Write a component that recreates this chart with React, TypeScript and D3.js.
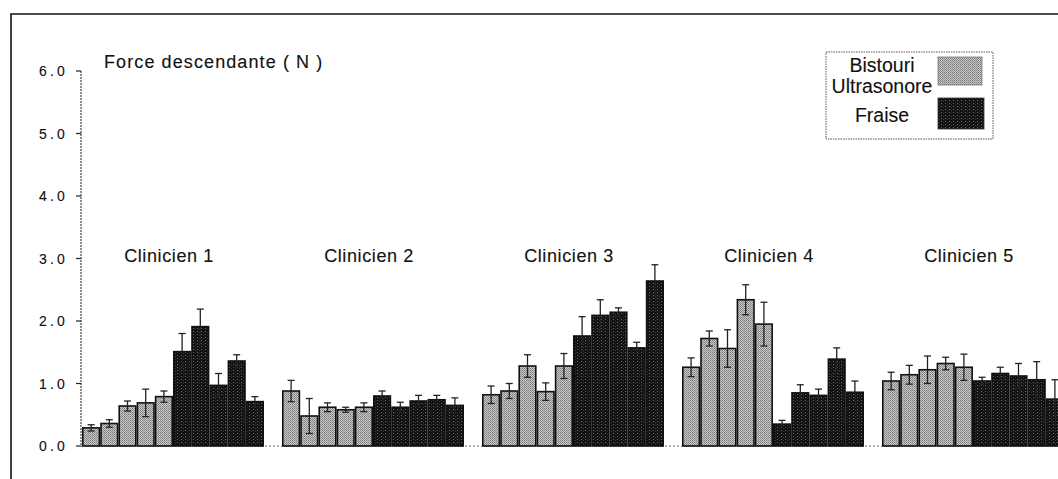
import React from "react";
import * as d3 from "d3";

const WIDTH = 1058;
const HEIGHT = 479;

const clinicians = ["Clinicien 1", "Clinicien 2", "Clinicien 3", "Clinicien 4", "Clinicien 5"];
const yTicks = [0, 1, 2, 3, 4, 5, 6];

// 5 trials per clinician, ultrasonic scalpel then bur
const bistouri = [
  [0.29, 0.36, 0.64, 0.69, 0.79],
  [0.88, 0.48, 0.62, 0.58, 0.62],
  [0.82, 0.88, 1.28, 0.87, 1.28],
  [1.26, 1.72, 1.56, 2.34, 1.95],
  [1.04, 1.14, 1.22, 1.32, 1.26],
];
const bistouriErr = [
  [0.05, 0.06, 0.08, 0.22, 0.09],
  [0.17, 0.28, 0.07, 0.04, 0.07],
  [0.14, 0.12, 0.18, 0.14, 0.2],
  [0.15, 0.12, 0.3, 0.24, 0.35],
  [0.14, 0.15, 0.22, 0.1, 0.21],
];
const fraise = [
  [1.51, 1.91, 0.97, 1.36, 0.71],
  [0.8, 0.62, 0.72, 0.74, 0.65],
  [1.76, 2.09, 2.14, 1.57, 2.64],
  [0.35, 0.85, 0.81, 1.39, 0.86],
  [1.04, 1.16, 1.12, 1.06, 0.75],
];
const fraiseErr = [
  [0.29, 0.28, 0.19, 0.1, 0.08],
  [0.08, 0.08, 0.09, 0.07, 0.12],
  [0.31, 0.25, 0.07, 0.09, 0.26],
  [0.06, 0.13, 0.1, 0.18, 0.18],
  [0.06, 0.1, 0.2, 0.29, 0.31],
];

const FONT = "Liberation Sans, Arial, sans-serif";

export default function App() {
  const x0 = d3
    .scaleBand<string>()
    .domain(clinicians)
    .range([82, 1064])
    .paddingInner(0.09)
    .paddingOuter(0);

  const slots = d3.range(10).map(String);
  const x1 = d3.scaleBand<string>().domain(slots).range([0, x0.bandwidth()]);

  const y = d3.scaleLinear().domain([0, 6]).range([446, 71]);

  const bars = clinicians.flatMap((c, ci) => {
    const vals = bistouri[ci].concat(fraise[ci]);
    const errs = bistouriErr[ci].concat(fraiseErr[ci]);
    return vals.map((v, i) => ({
      key: `${ci}-${i}`,
      x: (x0(c) as number) + (x1(String(i)) as number),
      w: x1.bandwidth(),
      v,
      e: errs[i],
      light: i < 5,
    }));
  });

  // slightly heavier text, like the scanned original
  const ink = { fill: "#111", stroke: "#111", strokeWidth: 0.12 };

  return (
    <svg
      width={WIDTH}
      height={HEIGHT}
      style={{ position: "absolute", left: 0, top: 0, background: "#fff" }}
    >
      <defs>
        <pattern id="light" width="2" height="2" patternUnits="userSpaceOnUse">
          <rect width="2" height="2" fill="#c8c8c8" />
          <rect width="1" height="1" fill="#7c7c7c" />
          <rect x="1" y="1" width="1" height="1" fill="#909090" />
        </pattern>
        <pattern id="dark" width="4" height="3" patternUnits="userSpaceOnUse">
          <rect width="4" height="3" fill="#121212" />
          <rect x="1" y="1" width="1" height="1" fill="#6a6a6a" />
          <rect x="3" y="2" width="1" height="1" fill="#3a3a3a" />
        </pattern>
      </defs>

      {/* frame */}
      <path d={`M11,${HEIGHT + 2} V14 H${WIDTH + 2}`} fill="none" stroke="#111" strokeWidth={1.6} />

      {/* y axis */}
      <line x1={81} x2={81} y1={y(6)} y2={y(0)} stroke="#444" strokeWidth={1.2} strokeDasharray="2 1" />
      {yTicks.map((t) => (
        <g key={t}>
          <line x1={76} x2={81} y1={y(t)} y2={y(t)} stroke="#222" strokeWidth={1.2} />
          <text
            x={68}
            y={y(t) + 5}
            textAnchor="end"
            fontFamily={FONT}
            fontSize={14}
            letterSpacing={3.2}
            {...ink}
          >
            {t.toFixed(1)}
          </text>
        </g>
      ))}

      {/* baseline */}
      <line x1={81} x2={WIDTH} y1={y(0)} y2={y(0)} stroke="#666" strokeWidth={1} strokeDasharray="2 2" />

      <text x={104} y={68} fontFamily={FONT} fontSize={18} letterSpacing={1.1} {...ink}>
        Force descendante ( N )
      </text>

      {/* bars */}
      {bars.map((b) => (
        <rect
          key={b.key}
          x={b.x + 0.8}
          y={y(b.v)}
          width={b.w - 1.6}
          height={y(0) - y(b.v)}
          fill={b.light ? "url(#light)" : "url(#dark)"}
          stroke="#111"
          strokeWidth={1.6}
        />
      ))}

      {/* error bars */}
      {bars.map((b) => {
        const cx = b.x + b.w / 2;
        const top = y(b.v + b.e);
        const bot = y(b.v - b.e);
        return (
          <g key={"e" + b.key} stroke="#222" strokeWidth={1.3}>
            <line x1={cx} x2={cx} y1={top} y2={bot} />
            <line x1={cx - 3.5} x2={cx + 3.5} y1={top} y2={top} />
            <line x1={cx - 3.5} x2={cx + 3.5} y1={bot} y2={bot} />
          </g>
        );
      })}

      {/* clinician labels */}
      {clinicians.map((c) => (
        <text
          key={c}
          x={(x0(c) as number) + x0.bandwidth() / 2 - 4}
          y={262}
          textAnchor="middle"
          fontFamily={FONT}
          fontSize={18}
          letterSpacing={0.6}
          {...ink}
        >
          {c}
        </text>
      ))}

      {/* legend */}
      <rect x={826} y={52} width={167} height={87} fill="#fff" stroke="#555" strokeWidth={1} strokeDasharray="1.5 1" />
      <g fontFamily={FONT} fontSize={19.5} textAnchor="middle" {...ink}>
        <text x={882} y={72}>Bistouri</text>
        <text x={882} y={93}>Ultrasonore</text>
        <text x={882} y={122}>Fraise</text>
      </g>
      <rect x={938} y={57} width={44} height={28} fill="url(#light)" stroke="#777" strokeWidth={0.8} />
      <rect x={938} y={98} width={46} height={31} fill="url(#dark)" stroke="#333" strokeWidth={0.8} />
    </svg>
  );
}
